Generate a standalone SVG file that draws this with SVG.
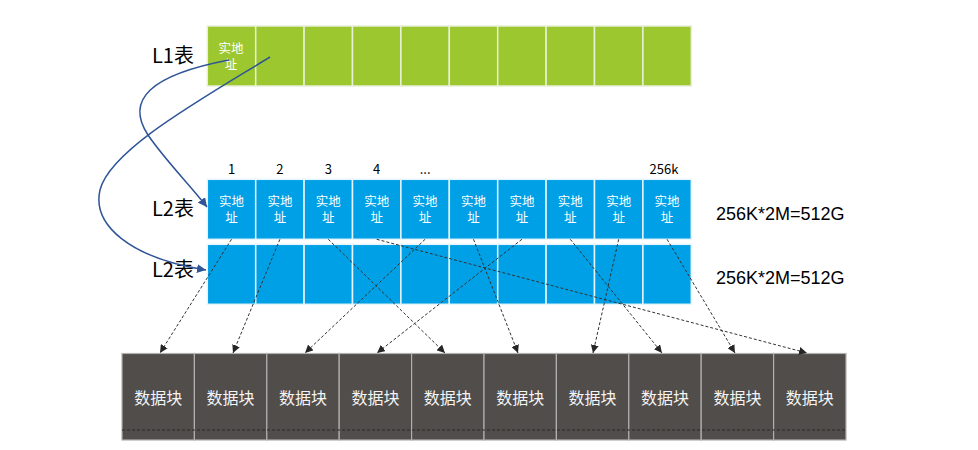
<svg xmlns="http://www.w3.org/2000/svg" width="978" height="450" viewBox="0 0 978 450">
<defs>
<style>
.g{fill:#9cc72e;stroke:#e8f0d8;stroke-width:1.5}
.b{fill:#00a0e6;stroke:#e6f4fb;stroke-width:1.5}
.d{fill:#504d4b;stroke:#b0b0b0;stroke-width:1.2}
.ct{font-family:"Noto Sans CJK SC","Microsoft YaHei",sans-serif;font-size:12.5px;fill:#ffffff;text-anchor:middle}
.dt{font-family:"Noto Sans CJK SC","Microsoft YaHei",sans-serif;font-size:16px;fill:#f4f4f4;text-anchor:middle}
.lb{font-family:"Noto Sans CJK SC",sans-serif;font-size:20px;fill:#000}
.num{font-family:"Noto Sans CJK SC",sans-serif;font-size:13px;fill:#000;text-anchor:middle}
.eq{font-family:"Liberation Sans","Noto Sans CJK SC",sans-serif;font-size:18px;fill:#000}
.dash{fill:none;stroke:#333;stroke-width:1;stroke-dasharray:3 2;marker-end:url(#ah)}
.cv{fill:none;stroke:#2f5597;stroke-width:1.5;marker-end:url(#bh)}
</style>
<marker id="ah" viewBox="0 0 10 10" refX="10" refY="5" markerWidth="8" markerHeight="8" markerUnits="userSpaceOnUse" orient="auto">
<path d="M0,0 L10,5 L0,10 z" fill="#262626"/>
</marker>
<marker id="bh" viewBox="0 0 10 10" refX="10" refY="5" markerWidth="9" markerHeight="9" markerUnits="userSpaceOnUse" orient="auto">
<path d="M0,0 L10,5 L0,10 z" fill="#2f5597"/>
</marker>
</defs>
<rect width="978" height="450" fill="#ffffff"/>

<g id="label-l1"><text class="lb" x="152" y="63">L1表</text></g>
<g id="label-l2a"><text class="lb" x="152" y="216">L2表</text></g>
<g id="label-l2b"><text class="lb" x="152" y="277">L2表</text></g>

<g id="l1-table">
<rect class="g" x="207.3" y="26" width="48.4" height="60"/>
<rect class="g" x="255.7" y="26" width="48.4" height="60"/>
<rect class="g" x="304.1" y="26" width="48.4" height="60"/>
<rect class="g" x="352.5" y="26" width="48.4" height="60"/>
<rect class="g" x="400.9" y="26" width="48.4" height="60"/>
<rect class="g" x="449.3" y="26" width="48.4" height="60"/>
<rect class="g" x="497.7" y="26" width="48.4" height="60"/>
<rect class="g" x="546.1" y="26" width="48.4" height="60"/>
<rect class="g" x="594.5" y="26" width="48.4" height="60"/>
<rect class="g" x="642.9" y="26" width="48.4" height="60"/>
<text class="ct"><tspan x="231" y="53">实地</tspan><tspan x="231" dy="15.5">址</tspan></text>
</g>

<g id="l2-numbers">
<text class="num" x="231.5" y="174">1</text>
<text class="num" x="279.9" y="174">2</text>
<text class="num" x="328.3" y="174">3</text>
<text class="num" x="376.7" y="174">4</text>
<text class="num" x="425.1" y="174">...</text>
<text class="num" x="664" y="174">256k</text>
</g>

<g id="l2-table-a">
<rect class="b" x="207.3" y="179.3" width="48.4" height="60"/>
<rect class="b" x="255.7" y="179.3" width="48.4" height="60"/>
<rect class="b" x="304.1" y="179.3" width="48.4" height="60"/>
<rect class="b" x="352.5" y="179.3" width="48.4" height="60"/>
<rect class="b" x="400.9" y="179.3" width="48.4" height="60"/>
<rect class="b" x="449.3" y="179.3" width="48.4" height="60"/>
<rect class="b" x="497.7" y="179.3" width="48.4" height="60"/>
<rect class="b" x="546.1" y="179.3" width="48.4" height="60"/>
<rect class="b" x="594.5" y="179.3" width="48.4" height="60"/>
<rect class="b" x="642.9" y="179.3" width="48.4" height="60"/>
<text class="ct"><tspan x="231.5" y="206">实地</tspan><tspan x="231.5" dy="15.5">址</tspan></text>
<text class="ct"><tspan x="279.9" y="206">实地</tspan><tspan x="279.9" dy="15.5">址</tspan></text>
<text class="ct"><tspan x="328.3" y="206">实地</tspan><tspan x="328.3" dy="15.5">址</tspan></text>
<text class="ct"><tspan x="376.7" y="206">实地</tspan><tspan x="376.7" dy="15.5">址</tspan></text>
<text class="ct"><tspan x="425.1" y="206">实地</tspan><tspan x="425.1" dy="15.5">址</tspan></text>
<text class="ct"><tspan x="473.5" y="206">实地</tspan><tspan x="473.5" dy="15.5">址</tspan></text>
<text class="ct"><tspan x="521.9" y="206">实地</tspan><tspan x="521.9" dy="15.5">址</tspan></text>
<text class="ct"><tspan x="570.3" y="206">实地</tspan><tspan x="570.3" dy="15.5">址</tspan></text>
<text class="ct"><tspan x="618.7" y="206">实地</tspan><tspan x="618.7" dy="15.5">址</tspan></text>
<text class="ct"><tspan x="667.1" y="206">实地</tspan><tspan x="667.1" dy="15.5">址</tspan></text>
</g>

<g id="l2-table-b">
<rect class="b" x="207.3" y="244.3" width="48.4" height="60"/>
<rect class="b" x="255.7" y="244.3" width="48.4" height="60"/>
<rect class="b" x="304.1" y="244.3" width="48.4" height="60"/>
<rect class="b" x="352.5" y="244.3" width="48.4" height="60"/>
<rect class="b" x="400.9" y="244.3" width="48.4" height="60"/>
<rect class="b" x="449.3" y="244.3" width="48.4" height="60"/>
<rect class="b" x="497.7" y="244.3" width="48.4" height="60"/>
<rect class="b" x="546.1" y="244.3" width="48.4" height="60"/>
<rect class="b" x="594.5" y="244.3" width="48.4" height="60"/>
<rect class="b" x="642.9" y="244.3" width="48.4" height="60"/>
</g>

<g id="size-a"><text class="eq" x="716" y="220">256K*2M=512G</text></g>
<g id="size-b"><text class="eq" x="716" y="284">256K*2M=512G</text></g>

<g id="data-blocks">
<rect class="d" x="122" y="353.5" width="72.4" height="86.5"/>
<rect class="d" x="194.4" y="353.5" width="72.4" height="86.5"/>
<rect class="d" x="266.8" y="353.5" width="72.4" height="86.5"/>
<rect class="d" x="339.2" y="353.5" width="72.4" height="86.5"/>
<rect class="d" x="411.6" y="353.5" width="72.4" height="86.5"/>
<rect class="d" x="484" y="353.5" width="72.4" height="86.5"/>
<rect class="d" x="556.4" y="353.5" width="72.4" height="86.5"/>
<rect class="d" x="628.8" y="353.5" width="72.4" height="86.5"/>
<rect class="d" x="701.2" y="353.5" width="72.4" height="86.5"/>
<rect class="d" x="773.6" y="353.5" width="72.4" height="86.5"/>
<line x1="122" y1="430" x2="846" y2="430" stroke="#2a2a2a" stroke-width="1" stroke-dasharray="3 2"/>
<text class="dt" x="158.2" y="404">数据块</text>
<text class="dt" x="230.6" y="404">数据块</text>
<text class="dt" x="303" y="404">数据块</text>
<text class="dt" x="375.4" y="404">数据块</text>
<text class="dt" x="447.8" y="404">数据块</text>
<text class="dt" x="520.2" y="404">数据块</text>
<text class="dt" x="592.6" y="404">数据块</text>
<text class="dt" x="665" y="404">数据块</text>
<text class="dt" x="737.4" y="404">数据块</text>
<text class="dt" x="809.8" y="404">数据块</text>
</g>

<g id="connectors">
<path class="cv" d="M229,60 C150,75 125,100 148,135 C165,160 190,185 207,207"/>
<path class="cv" d="M270,57 C200,100 110,150 100,190 C92,225 130,258 206,270"/>
<line class="dash" x1="231.5" y1="239.3" x2="160" y2="353"/>
<line class="dash" x1="279.9" y1="239.3" x2="233" y2="353"/>
<line class="dash" x1="328.3" y1="239.3" x2="445" y2="353"/>
<line class="dash" x1="376.7" y1="239.3" x2="807" y2="353"/>
<line class="dash" x1="425.1" y1="239.3" x2="305" y2="353"/>
<line class="dash" x1="473.5" y1="239.3" x2="518" y2="353"/>
<line class="dash" x1="521.9" y1="239.3" x2="377" y2="353"/>
<line class="dash" x1="570.3" y1="239.3" x2="662" y2="353"/>
<line class="dash" x1="618.7" y1="239.3" x2="593" y2="353"/>
<line class="dash" x1="667.1" y1="239.3" x2="735" y2="353"/>
</g>
</svg>
